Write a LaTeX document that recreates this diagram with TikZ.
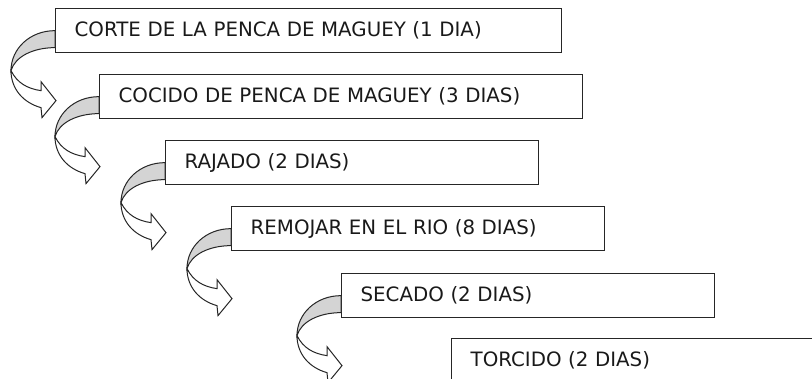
\documentclass[tikz,border=0pt]{standalone}
\usepackage{fontspec}
\setmainfont{DejaVu Sans}
\usepackage{tikz}

\tikzset{
  etapa/.style={draw=black!85, line width=1.3pt, anchor=north west, align=left,
    minimum height=44pt, inner xsep=19pt, inner ysep=0pt,
    font=\fontsize{19.8}{24}\selectfont, text=black!90},
  flecha/.pic={
    \path [draw=black!85, fill=black!17, line width=1pt]
      (0,0) .. controls (-25,0) and (-44,-18) .. (-44,-40)
      .. controls (-40,-26) and (-22,-17) .. (0,-17) -- cycle;
    \path [draw=black!85, fill=white, line width=1pt, line join=miter]
      (-44,-40) .. controls (-44,-58) and (-32,-72) .. (-14,-77)
      -- (-13,-87) -- (1,-70) -- (-14,-51) -- (-14,-60)
      .. controls (-28,-58) and (-38,-52) .. (-44,-40) -- cycle;
  }
}

\begin{document}
\begin{tikzpicture}[x=1pt, y=1pt]
\clip (0,0) rectangle (812,-379);
\node [etapa, text width=468pt] (c1) at (55,-8) {CORTE DE LA PENCA DE MAGUEY (1 DIA)};
\node [etapa, text width=445pt] (c2) at (99,-74) {COCIDO DE PENCA DE MAGUEY (3 DIAS)};
\node [etapa, text width=335pt] (c3) at (165,-140) {RAJADO (2 DIAS)};
\node [etapa, text width=335pt] (c4) at (231,-206) {REMOJAR EN EL RIO (8 DIAS)};
\node [etapa, text width=335pt] (c5) at (341,-273) {SECADO (2 DIAS)};
\node [etapa, text width=335pt] (c6) at (451,-338) {TORCIDO (2 DIAS)};
% flechas curvas entre pasos
\foreach \n in {c1,c2,c3,c4,c5}
  \pic at (\n.west) {flecha};
\end{tikzpicture}
\end{document}
